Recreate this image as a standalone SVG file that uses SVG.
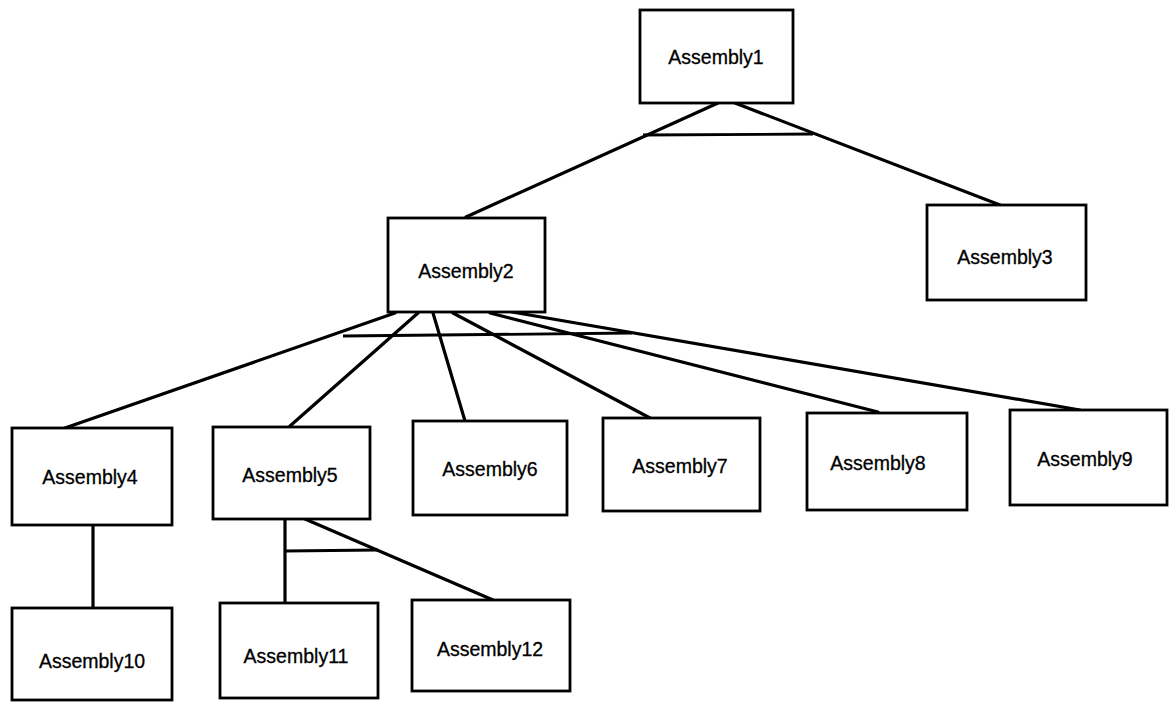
<svg xmlns="http://www.w3.org/2000/svg" width="1169" height="704" viewBox="0 0 1169 704">
  <style>
    .box { fill: #ffffff; stroke: #000000; stroke-width: 2.8; }
    .lbl { font-family: "Liberation Sans", Arial, sans-serif; font-size: 19.5px; fill: #000000; text-anchor: middle; stroke: #000000; stroke-width: 0.3; }
    .edge { stroke: #000000; stroke-width: 3.2; fill: none; stroke-linecap: round; }
    .bar { stroke: #000000; stroke-width: 2.8; fill: none; }
  </style>
  <rect width="1169" height="704" fill="#ffffff"/>

  <!-- connectors: parent-to-child links with the bar that groups siblings -->
  <g id="connectors">
    <line class="edge" x1="718" y1="103" x2="466" y2="217"/>
    <line class="edge" x1="735" y1="103" x2="1000" y2="205"/>
    <line class="bar" x1="643" y1="135" x2="813" y2="134"/>

    <line class="edge" x1="395" y1="313" x2="65" y2="428"/>
    <line class="edge" x1="418" y1="313" x2="290" y2="426"/>
    <line class="edge" x1="433" y1="313" x2="465" y2="421"/>
    <line class="edge" x1="453" y1="313" x2="650" y2="418"/>
    <line class="edge" x1="490" y1="313" x2="878" y2="412"/>
    <line class="edge" x1="512" y1="312" x2="1080" y2="410"/>
    <line class="bar" x1="343" y1="336" x2="632" y2="333"/>

    <line class="edge" x1="93" y1="525" x2="93" y2="608"/>
    <line class="edge" x1="285" y1="520" x2="285" y2="603"/>
    <line class="edge" x1="305" y1="519" x2="493" y2="600"/>
    <line class="bar" x1="285" y1="551" x2="378" y2="550"/>
  </g>

  <g id="assembly1"><rect class="box" x="640" y="10" width="153" height="93"/><text class="lbl" x="716" y="64">Assembly1</text></g>
  <g id="assembly2"><rect class="box" x="388" y="218" width="157" height="94"/><text class="lbl" x="466" y="278">Assembly2</text></g>
  <g id="assembly3"><rect class="box" x="927" y="205" width="159" height="95"/><text class="lbl" x="1005" y="264">Assembly3</text></g>
  <g id="assembly4"><rect class="box" x="12" y="428" width="160" height="97"/><text class="lbl" x="90" y="484">Assembly4</text></g>
  <g id="assembly5"><rect class="box" x="213" y="427" width="157" height="92"/><text class="lbl" x="290" y="482">Assembly5</text></g>
  <g id="assembly6"><rect class="box" x="413" y="421" width="154" height="94"/><text class="lbl" x="490" y="476">Assembly6</text></g>
  <g id="assembly7"><rect class="box" x="603" y="418" width="157" height="93"/><text class="lbl" x="680" y="473">Assembly7</text></g>
  <g id="assembly8"><rect class="box" x="807" y="413" width="160" height="97"/><text class="lbl" x="878" y="470">Assembly8</text></g>
  <g id="assembly9"><rect class="box" x="1010" y="410" width="157" height="95"/><text class="lbl" x="1085" y="466">Assembly9</text></g>
  <g id="assembly10"><rect class="box" x="12" y="608" width="160" height="92"/><text class="lbl" x="92" y="668">Assembly10</text></g>
  <g id="assembly11"><rect class="box" x="220" y="603" width="158" height="95"/><text class="lbl" x="296" y="663">Assembly11</text></g>
  <g id="assembly12"><rect class="box" x="412" y="600" width="158" height="91"/><text class="lbl" x="490" y="656">Assembly12</text></g>
</svg>
